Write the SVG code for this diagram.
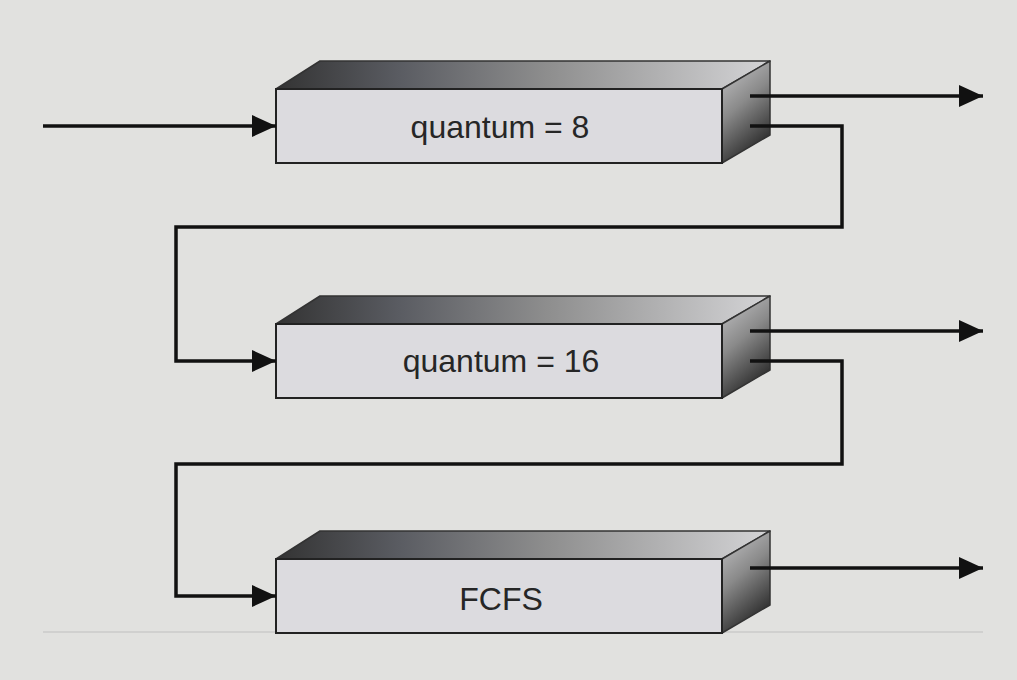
<svg xmlns="http://www.w3.org/2000/svg" width="1017" height="680" viewBox="0 0 1017 680">
<defs>
<linearGradient id="topg" x1="0" y1="0" x2="1" y2="0">
<stop offset="0" stop-color="#333333"/>
<stop offset="0.25" stop-color="#5a5c62"/>
<stop offset="0.55" stop-color="#8e8e8e"/>
<stop offset="1" stop-color="#d4d4d6"/>
</linearGradient>
<linearGradient id="sideg" x1="0" y1="0" x2="0.4" y2="1">
<stop offset="0" stop-color="#c8c8ca"/>
<stop offset="0.5" stop-color="#8a8a8a"/>
<stop offset="1" stop-color="#2e2e2e"/>
</linearGradient>
<marker id="ah" markerWidth="26" markerHeight="22" refX="24" refY="11" orient="auto" markerUnits="userSpaceOnUse">
<path d="M0,0 L24,11 L0,22 Z" fill="#111"/>
</marker>
<g id="box">
<polygon points="276,28 320,0 770,0 722,28" fill="url(#topg)" stroke="#333" stroke-width="1.5" stroke-linejoin="round"/>
<polygon points="722,28 770,0 770,74 722,102" fill="url(#sideg)" stroke="#333" stroke-width="1.5" stroke-linejoin="round"/>
<rect x="276" y="28" width="446" height="74" fill="#dcdbdf" stroke="#222" stroke-width="2"/>
</g>
</defs>
<style>
.ln{fill:none;stroke:#111;stroke-width:3.5;stroke-linejoin:miter}
.lbl{font-family:"Liberation Sans",Arial,sans-serif;font-size:32px;fill:#262626;text-anchor:middle}
</style>
<rect width="1017" height="680" fill="#e1e1df"/>
<line x1="43" y1="632" x2="983" y2="632" stroke="#cacaca" stroke-width="1.5"/>
<g id="node-q8">
<use href="#box" y="61"/>
<text class="lbl" x="500" y="138">quantum = 8</text>
</g>
<g id="node-q16">
<use href="#box" y="296"/>
<text class="lbl" x="501" y="372">quantum = 16</text>
</g>
<g id="node-fcfs">
<use href="#box" y="531"/>
<text class="lbl" x="501" y="610">FCFS</text>
</g>
<g id="connectors">
<path class="ln" d="M43,126 H276" marker-end="url(#ah)"/>
<path class="ln" d="M750,96 H983" marker-end="url(#ah)"/>
<path class="ln" d="M750,126 H842 V227 H176 V361 H276" marker-end="url(#ah)"/>
<path class="ln" d="M750,331 H983" marker-end="url(#ah)"/>
<path class="ln" d="M750,361 H842 V464 H176 V596 H276" marker-end="url(#ah)"/>
<path class="ln" d="M750,568 H983" marker-end="url(#ah)"/>
</g>
</svg>
